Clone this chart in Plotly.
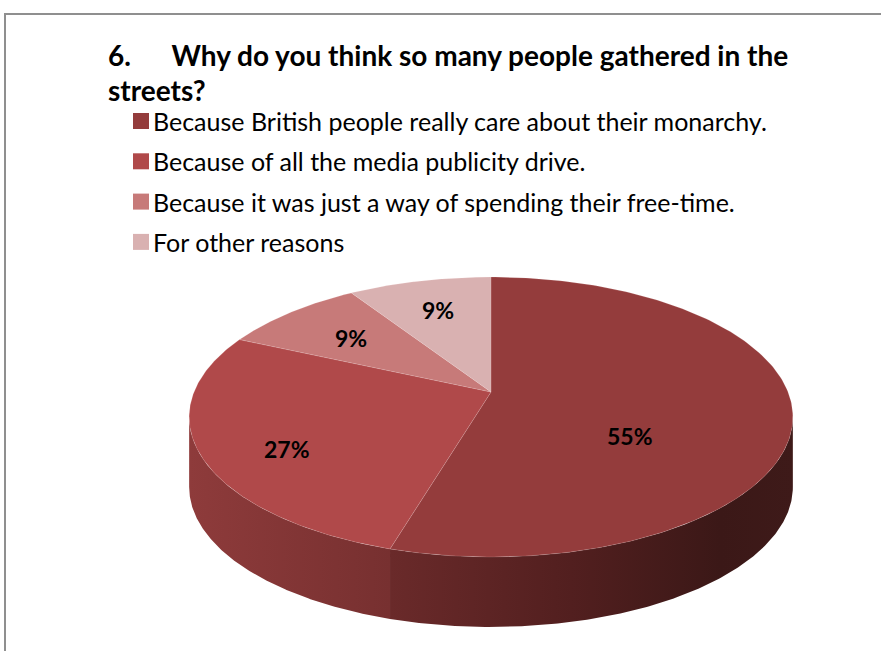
import numpy as np
import plotly.graph_objects as go

# Survey answers (11 respondents)
labels = [
    "Because British people really care about their monarchy.",
    "Because of all the media publicity drive.",
    "Because it was just a way of spending their free-time.",
    "For other reasons",
]
counts = [6, 3, 1, 1]
pct_text = ["55%", "27%", "9%", "9%"]
top_colors = ["#943c3c", "#b0494a", "#c77a79", "#d9b1b1"]
side_scales = [
    [[0, "#6a2a2a"], [0.45, "#521f1f"], [0.82, "#3b1817"], [1, "#3e1a19"]],
    [[0, "#8e3b3b"], [1, "#773030"]],
    [[0, "#b36868"], [1, "#a05454"]],
    [[0, "#c39a9a"], [1, "#b08888"]],
]
title_lines = [
    "6.\u00a0\u00a0\u00a0\u00a0\u00a0\u00a0Why do you think so many people gathered in the",
    "streets?",
]

W, H = 881, 651
FONT = "Lato"

# 3-D pie projection: disc centre, radii, perspective factor and slab depth
CX, CY = 491.0, 392.0
A, B, C = 297.0, 135.5, 0.1786
DEPTH = 70.0
# how far each value label is pushed out from the slice centroid
label_push = [1.27, 1.25, 1.05, 1.12]


def project(theta, r=1.0, dz=0.0):
    u = r * np.sin(theta)
    v = r * np.cos(theta)
    d = 1 + C * v
    return CX + A * u / d, CY - B * v / d + dz


fractions = np.array(counts, dtype=float) / sum(counts)
edges = np.concatenate([[0], np.cumsum(fractions)]) * 2 * np.pi

# front-facing part of the outer wall lies between the two widest points
t_left = np.arccos(-C)
t_right = 2 * np.pi - t_left

fig = go.Figure()

# outer walls
for i in range(len(counts)):
    a = max(edges[i], t_left)
    b = min(edges[i + 1], t_right)
    if b <= a:
        continue
    t = np.linspace(a, b, 200)
    xt, yt = project(t)
    xb, yb = project(t[::-1], dz=DEPTH)
    xs = np.concatenate([xt, xb, xt[:1]])
    ys = np.concatenate([yt, yb, yt[:1]])
    fig.add_trace(go.Scatter(
        x=xs, y=ys, mode="lines", fill="toself",
        line=dict(width=0), fillcolor=top_colors[i],
        fillgradient=dict(type="horizontal", colorscale=side_scales[i],
                          start=float(xs.min()), stop=float(xs.max())),
        hoverinfo="skip", showlegend=False,
    ))

# top faces and value labels
for i in range(len(counts)):
    t = np.linspace(edges[i], edges[i + 1], 200)
    xr, yr = project(t)
    xs = np.concatenate([[CX], xr, [CX]])
    ys = np.concatenate([[CY], yr, [CY]])
    fig.add_trace(go.Scatter(
        x=xs, y=ys, mode="lines", fill="toself",
        line=dict(width=0.5, color="rgba(255,235,235,0.3)"),
        fillcolor=top_colors[i], hoverinfo="skip", showlegend=False,
    ))
    # polygon centroid
    x0, y0 = xs[:-1], ys[:-1]
    x1, y1 = xs[1:], ys[1:]
    cr = x0 * y1 - x1 * y0
    area = cr.sum() / 2
    gx = ((x0 + x1) * cr).sum() / (6 * area)
    gy = ((y0 + y1) * cr).sum() / (6 * area)
    k = label_push[i]
    fig.add_annotation(x=CX + k * (gx - CX), y=CY + k * (gy - CY),
                       text="<b>%s</b>" % pct_text[i], showarrow=False,
                       font=dict(family=FONT, size=23, color="#000000"))

# title
for k, line in enumerate(title_lines):
    fig.add_annotation(x=106, y=55 + 35 * k, text="<b>%s</b>" % line, showarrow=False,
                       xanchor="left", yanchor="middle",
                       font=dict(family=FONT, size=28, color="#000000"))

# legend
for i, lab in enumerate(labels):
    yc = 121 + 40.3 * i
    fig.add_shape(type="rect", x0=133, x1=149, y0=yc - 8, y1=yc + 8,
                  line=dict(width=0), fillcolor=top_colors[i])
    fig.add_annotation(x=151, y=yc, text=lab, showarrow=False,
                       xanchor="left", yanchor="middle",
                       font=dict(family=FONT, size=25, color="#000000"))

# chart frame
fig.add_shape(type="rect", x0=5, y0=14, x1=W + 10, y1=H + 10,
              line=dict(color="#8f8f8f", width=2), fillcolor="rgba(0,0,0,0)", layer="below")

fig.update_layout(
    width=W, height=H,
    margin=dict(l=0, r=0, t=0, b=0),
    paper_bgcolor="white", plot_bgcolor="white",
    xaxis=dict(range=[0, W], visible=False, fixedrange=True),
    yaxis=dict(range=[H, 0], visible=False, fixedrange=True),
    showlegend=False,
)

fig.write_html("out.html")
